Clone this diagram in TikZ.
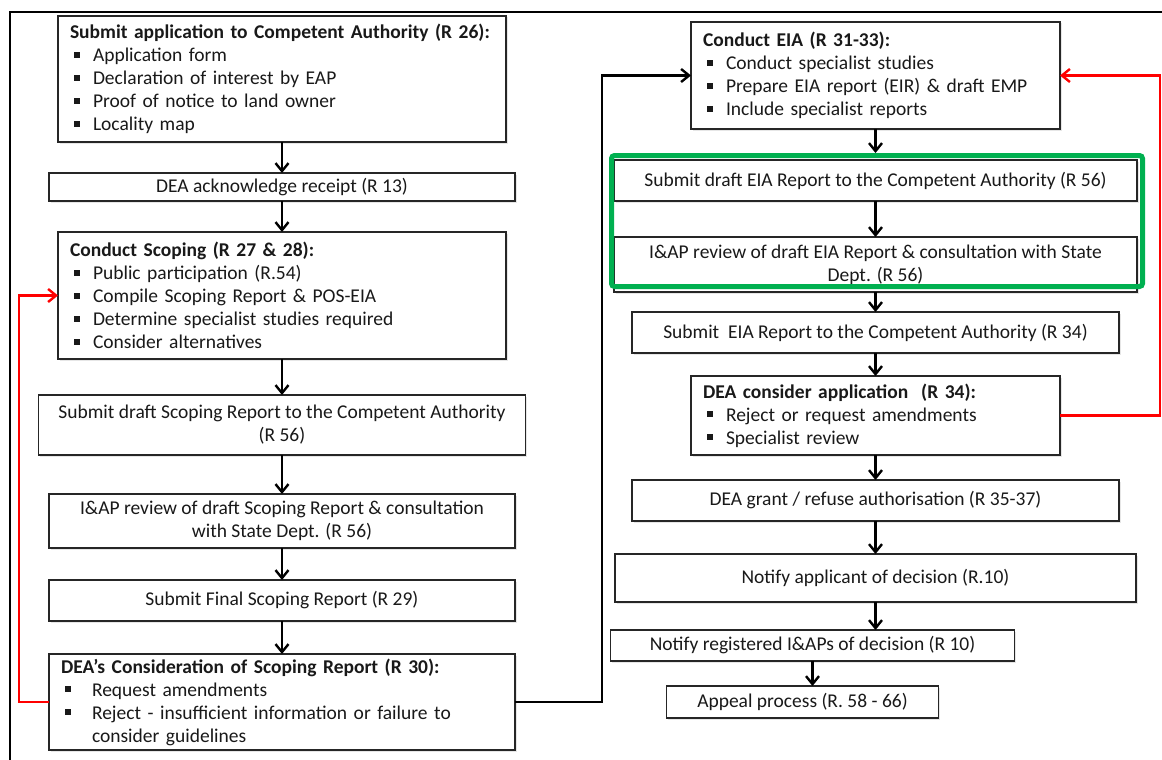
\documentclass[tikz,border=0pt]{standalone}
\usepackage{fontspec}
\setmainfont{Carlito}
\usepackage{tikz}
\usetikzlibrary{
    arrows.meta,
    positioning,
    shadows
}
\definecolor{frameGreen}{RGB}{0,176,80}
\newcommand{\blt}{\hspace*{4pt}\rule[4pt]{6pt}{6pt}\hspace*{13pt}}
\newcommand{\bltw}{\hspace*{4pt}\rule[4pt]{6pt}{6pt}\hspace*{21pt}}
\tikzset{
    stepbox/.style = {
        rectangle,
        draw=black!85,
        line width=1.5pt,
        fill=white,
        drop shadow={shadow xshift=1.5pt, shadow yshift=-1.5pt, opacity=0.2},
        align=center,
        inner sep=0pt,
        outer sep=0pt,
        text=black!90,
        font=\fontsize{19.5pt}{23pt}\selectfont
    },
    listbox/.style = {
        stepbox,
        align=left,
        inner xsep=12pt,
        inner ysep=0pt
    },
    greenframe/.style = {
        rectangle,
        draw=frameGreen,
        line width=5pt,
        rounded corners=3pt,
        inner sep=0pt
    },
    arrow/.style = {
        -{Straight Barb[length=8pt,width=13pt]},
        line width=2.4pt
    },
    redarrow/.style = {
        arrow,
        red,
        line width=2.4pt
    }
}

\begin{document}
\begin{tikzpicture}[x=1pt, y=-1pt]
\useasboundingbox (0,0) rectangle (1162,760);
\draw[line width=2.5pt] (10,760) -- (10,12) -- (1162,12);

\node[listbox, text width=424pt, minimum height=126pt] (apply) at (282,79) {
\mbox{\textbf{Submit application to Competent Authority (R 26):}}\\
\blt Application form\\
\blt Declaration of interest by EAP\\
\blt Proof of notice to land owner\\
\blt Locality map};
\node[stepbox, minimum width=466pt, minimum height=28pt, below=31pt of apply] (receipt) {DEA acknowledge receipt (R 13)};
\node[listbox, text width=424pt, minimum height=127pt, below=31pt of receipt] (scoping) {
\textbf{Conduct Scoping (R 27 \& 28):}\\
\blt Public participation (R.54)\\
\blt Compile Scoping Report \& POS-EIA\\
\blt Determine specialist studies required\\
\blt Consider alternatives};
\node[stepbox, minimum width=487pt, minimum height=60pt, below=36pt of scoping] (draftscope) {Submit draft Scoping Report to the Competent Authority\\(R 56)};
\node[stepbox, minimum width=466pt, minimum height=54pt, below=39pt of draftscope] (reviewscope) {I\&AP review of draft Scoping Report \& consultation\\with State Dept. (R 56)};
\node[stepbox, minimum width=466pt, minimum height=41pt, below=32pt of reviewscope] (finalscope) {Submit Final Scoping Report (R 29)};
\node[listbox, text width=442pt, minimum height=96pt, below=33pt of finalscope] (considerscope) {
\textbf{DEA’s Consideration of Scoping Report (R 30):}\\
\bltw Request amendments\\
\bltw Reject - insufficient information or failure to\\
\hspace*{31pt}consider guidelines};

\node[listbox, text width=345pt, minimum height=107pt] (eia) at (875.5,75.5) {
\textbf{Conduct EIA (R 31-33):}\\
\blt Conduct specialist studies\\
\blt Prepare EIA report (EIR) \& draft EMP\\
\blt Include specialist reports};
\node[stepbox, minimum width=523pt, minimum height=41pt, below=31pt of eia] (drafteia) {Submit draft EIA Report to the Competent Authority (R 56)};
\node[stepbox, minimum width=523pt, minimum height=55pt, below=36pt of drafteia] (revieweia) {I\&AP review of draft EIA Report \& consultation with State\\Dept. (R 56)};
\node[greenframe, minimum width=531pt, minimum height=131pt] (grp) at (877,221) {};
\node[stepbox, minimum width=487pt, minimum height=41pt, below=20pt of revieweia] (submiteia) {Submit~ EIA Report to the Competent Authority (R 34)};
\node[listbox, text width=345pt, minimum height=79pt, below=23pt of submiteia] (consideia) {
\textbf{DEA consider application~ (R 34):}\\
\blt Reject or request amendments\\
\blt Specialist review};
\node[stepbox, minimum width=487pt, minimum height=41pt, below=25pt of consideia] (grant) {DEA grant / refuse authorisation (R 35-37)};
\node[stepbox, minimum width=521pt, minimum height=48pt, below=33pt of grant] (notifyapp) {Notify applicant of decision (R.10)};
\node[stepbox, minimum width=404pt, minimum height=31pt, below=28pt of notifyapp, xshift=-63pt] (notifyiap) {Notify registered I\&APs of decision (R 10)};
\node[stepbox, minimum width=272pt, minimum height=32pt, below=25pt of notifyiap, xshift=-10pt] (appeal) {Appeal process (R. 58 - 66)};

\draw[arrow] (apply) -- (receipt);
\draw[arrow] (receipt) -- (scoping);
\draw[arrow] (scoping) -- (draftscope);
\draw[arrow] (draftscope) -- (reviewscope);
\draw[arrow] (reviewscope) -- (finalscope);
\draw[arrow] (finalscope) -- (considerscope);
\draw[redarrow] (considerscope.west) -- ++(-30,0) |- (scoping.west);
\draw[arrow] (considerscope.east) -- ++(87,0) |- (eia.west);

\draw[arrow] (eia.south) -- (eia.south |- grp.north);
\draw[arrow] (drafteia) -- (revieweia);
\draw[arrow] (revieweia) -- (submiteia);
\draw[arrow] (submiteia) -- (consideia);
\draw[arrow] (consideia) -- (grant);
\draw[arrow] (grant) -- (notifyapp);
\draw[arrow] (notifyapp.south) -- (notifyapp.south |- notifyiap.north);
\draw[arrow] (notifyiap.south) -- (notifyiap.south |- appeal.north);
\draw[redarrow] (consideia.east) -- ++(100,0) |- (eia.east);
\end{tikzpicture}
\end{document}
